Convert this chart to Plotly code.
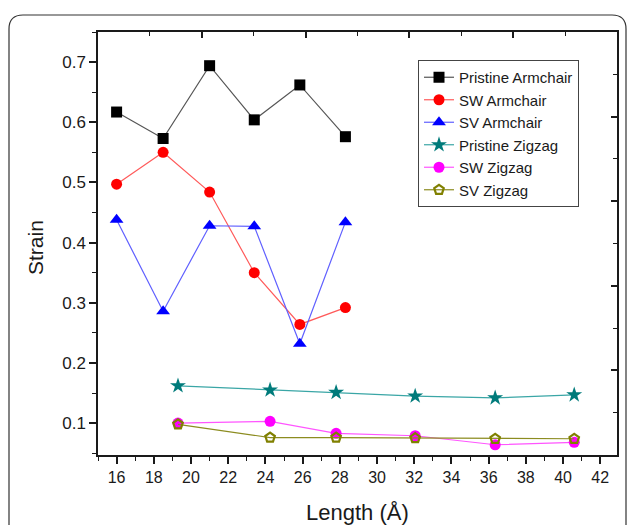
import plotly.graph_objects as go

# ---------------- data ----------------
arm_len = [16.0, 18.5, 21.0, 23.4, 25.85, 28.3]
pristine_arm = [0.617, 0.573, 0.694, 0.604, 0.662, 0.576]
sw_arm = [0.497, 0.550, 0.484, 0.350, 0.264, 0.292]
sv_arm = [0.438, 0.286, 0.428, 0.427, 0.232, 0.434]

zig_len = [19.3, 24.25, 27.8, 32.05, 36.35, 40.6]
pristine_zig = [0.162, 0.155, 0.151, 0.145, 0.142, 0.147]
sw_zig = [0.100, 0.103, 0.083, 0.079, 0.064, 0.068]
sv_zig = [0.098, 0.076, 0.076, 0.075, 0.074, 0.074]

names = ["Pristine Armchair", "SW Armchair", "SV Armchair",
         "Pristine Zigzag", "SW Zigzag", "SV Zigzag"]

# ---------------- layout geometry (pixels) ----------------
W, H = 627, 525
L, R, T, B = 98, 617, 32, 455


def px(x):
    return (x - L) / (R - L)


def py(y):
    return (B - y) / (B - T)


fig = go.Figure()

series = [
    (arm_len, pristine_arm, "#000000", "#555555", "square", 11, 0),
    (arm_len, sw_arm, "#ff0000", "#ff5a5a", "circle", 11, 0),
    (arm_len, sv_arm, "#0000ff", "#6060ff", "triangle-up", 12, 0),
    (zig_len, pristine_zig, "#007b7b", "#3aa6a6", "star", 12, 0),
    (zig_len, sw_zig, "#ff00ff", "#ff55ff", "circle", 11, 0),
    (zig_len, sv_zig, "#808000", "#8c8c20", "pentagon-open", 10, 2.2),
]

for (xs, ys, mc, lc, sym, size, lw), nm in zip(series, names):
    marker = dict(symbol=sym, size=size, color=mc)
    if lw:
        marker["line"] = dict(width=lw, color=mc)
    fig.add_trace(go.Scatter(
        x=xs, y=ys, name=nm, mode="lines+markers",
        line=dict(color=lc, width=1.2), marker=marker,
    ))

# invisible trace to activate the decorative top/right axes
fig.add_trace(go.Scatter(x=[None], y=[None], xaxis="x2", yaxis="y2",
                         showlegend=False, hoverinfo="skip"))

axis_col = "#1a1a1a"

fig.update_layout(
    width=W, height=H,
    margin=dict(l=L, r=W - R, t=T, b=H - B),
    paper_bgcolor="white", plot_bgcolor="white",
    font=dict(family="Liberation Sans, Arial, sans-serif", color="#1a1a1a"),
    showlegend=True,
    legend=dict(
        x=px(418), y=py(60), xanchor="left", yanchor="top",
        bgcolor="white", bordercolor="#444444", borderwidth=1,
        font=dict(size=15, color="#1a1a1a"),
        tracegroupgap=0, itemwidth=30,
        entrywidth=135, entrywidthmode="pixels",
    ),
    xaxis=dict(
        range=[15, 42.9], tick0=16, dtick=2, ticks="outside", ticklen=7,
        tickwidth=1.5, tickcolor=axis_col, showline=True, linecolor=axis_col,
        linewidth=1.5, showgrid=False, zeroline=False,
        tickfont=dict(size=16, color="#1a1a1a"),
        minor=dict(dtick=1, tick0=15, ticks="outside", ticklen=4,
                   tickwidth=1.2, tickcolor=axis_col, showgrid=False),
    ),
    yaxis=dict(
        range=[0.047, 0.75], tick0=0.1, dtick=0.1, ticks="outside", ticklen=7,
        tickwidth=1.5, tickcolor=axis_col, showline=True, linecolor=axis_col,
        linewidth=1.5, showgrid=False, zeroline=False,
        tickfont=dict(size=17, color="#1a1a1a"),
        minor=dict(dtick=0.05, tick0=0.05, ticks="outside", ticklen=4,
                   tickwidth=1.2, tickcolor=axis_col, showgrid=False),
    ),
    xaxis2=dict(
        overlaying="x", side="top", anchor="y2", range=[0, 1],
        tick0=0, dtick=0.2, ticks="inside", ticklen=6, tickwidth=1.5,
        tickcolor=axis_col, showline=True, linecolor=axis_col, linewidth=1.5,
        showticklabels=False, showgrid=False, zeroline=False,
        minor=dict(dtick=0.1, ticks="inside", ticklen=4, tickwidth=1.2,
                   tickcolor=axis_col, showgrid=False),
    ),
    yaxis2=dict(
        overlaying="y", side="right", anchor="x2", range=[0, 1],
        tick0=0, dtick=0.2, ticks="inside", ticklen=6, tickwidth=1.5,
        tickcolor=axis_col, showline=True, linecolor=axis_col, linewidth=1.5,
        showticklabels=False, showgrid=False, zeroline=False,
        minor=dict(dtick=0.1, ticks="inside", ticklen=4, tickwidth=1.2,
                   tickcolor=axis_col, showgrid=False),
    ),
)

# axis titles
fig.add_annotation(text="Length (Å)", xref="paper", yref="paper",
                   x=px(357), y=py(512), showarrow=False,
                   xanchor="center", yanchor="middle",
                   font=dict(size=22, color="#1a1a1a"))
fig.add_annotation(text="Strain", xref="paper", yref="paper",
                   x=px(35), y=py(248), showarrow=False, textangle=-90,
                   xanchor="center", yanchor="middle",
                   font=dict(size=21, color="#1a1a1a"))

# rounded card border around the figure
x0, y0, x1, y1, r = 9, 15, 626, 560, 14
path = (f"M {px(x0)},{py(y1)} L {px(x0)},{py(y0 + r)} "
        f"Q {px(x0)},{py(y0)} {px(x0 + r)},{py(y0)} "
        f"L {px(x1 - r)},{py(y0)} Q {px(x1)},{py(y0)} {px(x1)},{py(y0 + r)} "
        f"L {px(x1)},{py(y1)}")
fig.add_shape(type="path", path=path, xref="paper", yref="paper",
              line=dict(color="#333333", width=1.2), layer="below")

fig.write_html("out.html")
